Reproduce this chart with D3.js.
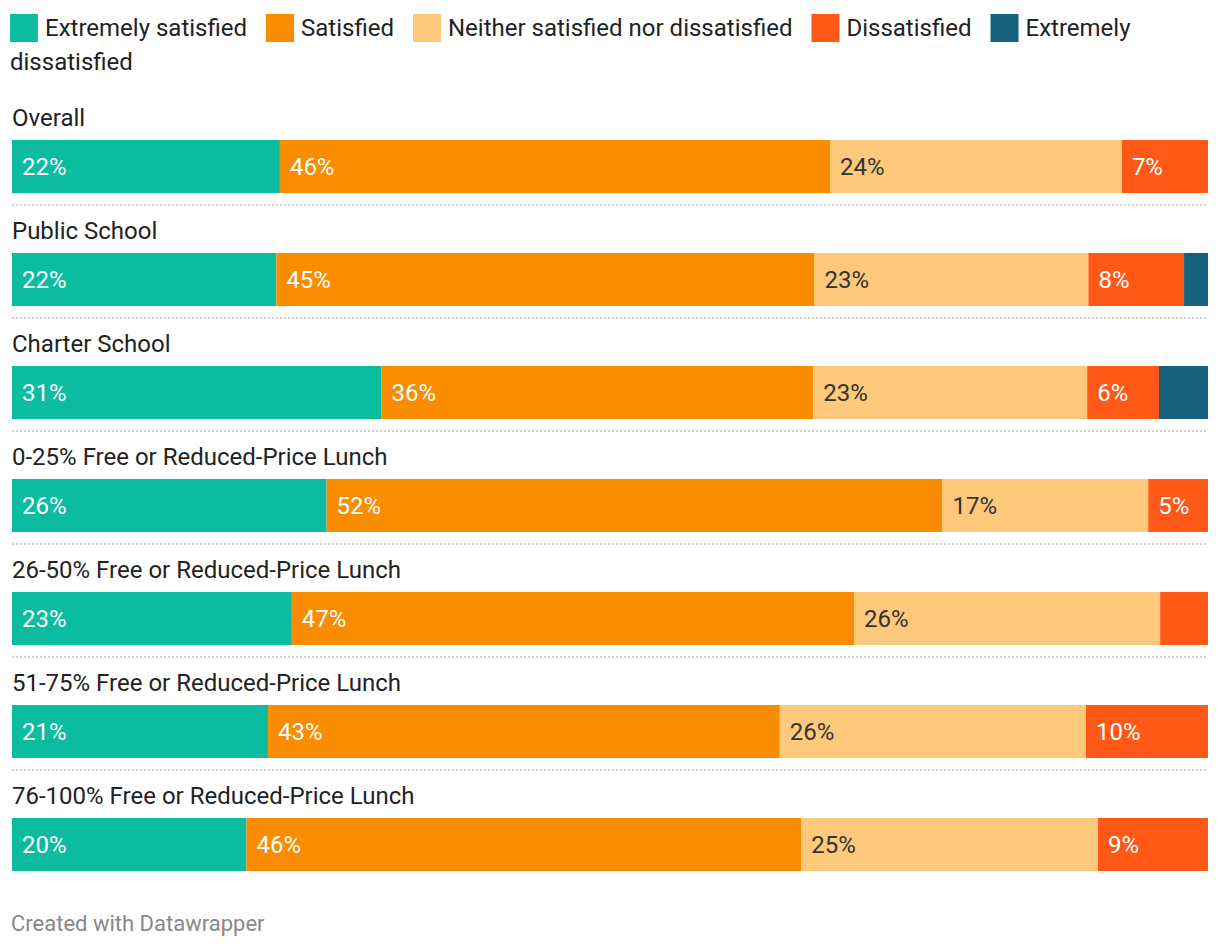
<!DOCTYPE html>
<html><head><meta charset="utf-8">
<script src="https://cdn.jsdelivr.net/npm/d3@7"></script>
<style>
html,body{margin:0;padding:0;background:#fff;}
svg text{font-family:Roboto, sans-serif;}
</style></head>
<body>
<svg id="chart" width="1220" height="948"></svg>
<script>
const categories = ["Overall","Public School","Charter School","0-25% Free or Reduced-Price Lunch","26-50% Free or Reduced-Price Lunch","51-75% Free or Reduced-Price Lunch","76-100% Free or Reduced-Price Lunch"];
const seriesNames = ["Extremely satisfied","Satisfied","Neither satisfied nor dissatisfied","Dissatisfied","Extremely dissatisfied"];
const extremelySatisfied = [22.4, 22.1, 30.9, 26.3, 23.4, 21.4, 19.6];
const satisfied          = [46.0, 45.0, 36.1, 51.5, 47.0, 42.8, 46.4];
const neither            = [24.4, 22.9, 22.9, 17.2, 25.6, 25.6, 24.8];
const dissatisfied       = [7.2, 8.0, 6.0, 5.0, 4.0, 10.2, 9.2];
const extremelyDissatisfied = [0, 2.0, 4.1, 0, 0, 0, 0];
const colors = ["#0bbca0","#fa8c00","#fec97a","#ff5817","#15607a"];
const labelColors = ["#fff","#fff","#333","#fff","#fff"];

const seriesValues = [extremelySatisfied, satisfied, neither, dissatisfied, extremelyDissatisfied];
const rows = categories.map((c,i)=>{
  const o = {category:c};
  seriesNames.forEach((s,j)=>o[s]=seriesValues[j][i]);
  return o;
});

const FS = 24;
const svg = d3.select("#chart");
const x = d3.scaleLinear().domain([0,100]).range([12,1208]);
const y = d3.scaleBand().domain(categories).range([140, 140+113*7]).paddingInner(0).paddingOuter(0);
const barH = 53;

// Legend (flow layout)
const legend = svg.append("g");
let lx = 10, ly = 36;
const lineH = 34, maxX = 1210;
seriesNames.forEach((s,j)=>{
  legend.append("rect").attr("x",lx).attr("y",ly-22).attr("width",28).attr("height",28).attr("fill",colors[j]);
  let tx = lx+35;
  const words = s.split(" ");
  let t = legend.append("text").attr("x",tx).attr("y",ly).attr("font-size",FS).attr("fill","#222");
  let line = "";
  words.forEach((w,k)=>{
    const test = line ? line+" "+w : w;
    t.text(test);
    if (tx + t.node().getComputedTextLength() > maxX && line) {
      t.text(line);
      ly += lineH; tx = 10;
      t = legend.append("text").attr("x",tx).attr("y",ly).attr("font-size",FS).attr("fill","#222").text(w);
      line = w;
    } else line = test;
  });
  lx = tx + t.node().getComputedTextLength() + 19;
});

const stack = d3.stack().keys(seriesNames)(rows);

const g = svg.append("g");
stack.forEach((layer,j)=>{
  g.selectAll(null).data(layer).join("rect")
    .attr("x",d=>x(d[0])).attr("width",d=>x(d[1])-x(d[0]))
    .attr("y",d=>y(d.data.category)).attr("height",barH)
    .attr("fill",colors[j]);
  g.selectAll(null).data(layer.filter(d=>x(d[1])-x(d[0])>50)).join("text")
    .attr("x",d=>x(d[0])+10).attr("y",d=>y(d.data.category)+barH/2+8)
    .attr("font-size",FS).attr("fill",labelColors[j])
    .text(d=>Math.round(d[1]-d[0])+"%");
});

// row labels
svg.selectAll(null).data(categories).join("text")
  .attr("x",12).attr("y",d=>y(d)-14).attr("font-size",FS).attr("fill","#222").text(d=>d);

// separators
svg.selectAll(null).data(categories.slice(0,-1)).join("line")
  .attr("x1",12).attr("x2",1208).attr("y1",d=>y(d)+barH+12).attr("y2",d=>y(d)+barH+12)
  .attr("stroke","#cfcfcf").attr("stroke-width",2).attr("stroke-dasharray","2,2");

svg.append("text").attr("x",11).attr("y",931).attr("font-size",22).attr("fill","#888").text("Created with Datawrapper");
</script>
</body></html>
